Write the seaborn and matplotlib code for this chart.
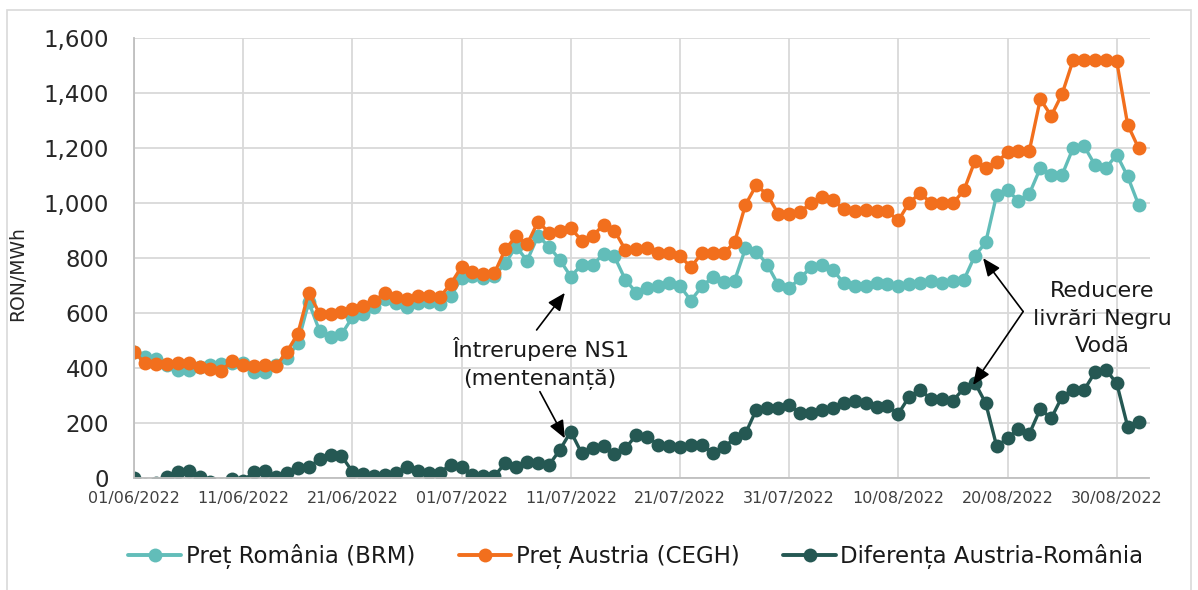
import numpy as np
import pandas as pd
import matplotlib
matplotlib.use("Agg")
import matplotlib.pyplot as plt
import matplotlib.dates as mdates
import matplotlib.ticker as mticker
from matplotlib.patches import Rectangle
from matplotlib.lines import Line2D
import seaborn as sns

# ---------------- data ----------------
dates = pd.date_range("2022-06-01", "2022-09-01", freq="D")

pret_romania = [
    460, 442, 432, 410, 395, 393, 405, 410, 415, 420,
    418, 385, 385, 410, 436, 491, 640, 535, 515, 523,
    585, 597, 621, 652, 636, 621, 636, 642, 634, 661,
    727, 735, 727, 735, 782, 842, 791, 881, 842, 794,
    733, 776, 776, 815, 806, 721, 675, 691, 699, 709,
    699, 646, 697, 731, 712, 718, 836, 824, 776, 703,
    691, 727, 767, 776, 758, 709, 697, 699, 711, 706,
    699, 706, 711, 716, 711, 718, 721, 808, 857, 1030,
    1046, 1009, 1034, 1127, 1103, 1103, 1200, 1208, 1139, 1127,
    1176, 1097, 994,
]

pret_austria = [
    460, 418, 415, 415, 418, 420, 403, 396, 390, 428,
    410, 408, 412, 408, 460, 525, 675, 598, 596, 606,
    614, 626, 646, 673, 658, 651, 661, 663, 658, 706,
    769, 748, 743, 745, 832, 880, 850, 933, 893, 899,
    909, 864, 881, 921, 900, 830, 833, 836, 818, 820,
    808, 767, 818, 818, 818, 857, 994, 1066, 1030, 961,
    961, 966, 1002, 1024, 1012, 978, 973, 976, 973, 970,
    937, 1002, 1036, 1000, 1000, 1000, 1046, 1152, 1128, 1149,
    1184, 1188, 1191, 1378, 1317, 1397, 1519, 1519, 1519, 1519,
    1515, 1285, 1200,
]

diferenta = [
    0, -24, -17, 5, 24, 27, 3, -14, -25, -3,
    -8, 22, 25, 3, 20, 36, 40, 69, 83, 82,
    24, 16, 8, 12, 18, 40, 28, 20, 20, 50,
    40, 12, 8, 8, 55, 40, 58, 55, 48, 103,
    170, 91, 109, 118, 88, 109, 157, 151, 122, 116,
    112, 122, 122, 92, 112, 145, 163, 250, 254, 254,
    266, 238, 236, 250, 257, 274, 280, 274, 260, 262,
    235, 297, 321, 288, 288, 282, 327, 348, 273, 117,
    145, 180, 162, 252, 218, 297, 322, 320, 385, 395,
    345, 188, 206,
]

series_names = ["Preț România (BRM)", "Preț Austria (CEGH)", "Diferența Austria-România"]
tick_dates = pd.date_range("2022-06-01", periods=10, freq="10D")
y_ticks = [0, 200, 400, 600, 800, 1000, 1200, 1400, 1600]

colors = {
    series_names[0]: "#62BDB9",
    series_names[1]: "#F26F1D",
    series_names[2]: "#255853",
}

df = pd.DataFrame({
    "Data": np.tile(dates.values, 3),
    "Valoare": pret_romania + pret_austria + diferenta,
    "Serie": np.repeat(series_names, len(dates)),
})

# ---------------- style ----------------
sns.set_theme(style="white")
plt.rcParams["font.family"] = ["DejaVu Sans"]

W, H = 1198, 590
fig = plt.figure(figsize=(W / 100, H / 100), dpi=100)
ax = fig.add_axes([134 / W, 1 - 478.3 / H, 1015.5 / W, 440.3 / H])

sns.lineplot(
    data=df, x="Data", y="Valoare", hue="Serie", hue_order=series_names,
    palette=colors, marker="o", markersize=10, markeredgewidth=0,
    linewidth=2.4, ax=ax, legend=False, sort=False, estimator=None,
)

ax.set_ylim(0, 1600)
ax.set_xlim(dates[0], dates[0] + pd.Timedelta(days=93))
ax.set_yticks(y_ticks)
ax.yaxis.set_major_formatter(mticker.StrMethodFormatter("{x:,.0f}"))
ax.set_xticks(tick_dates)
ax.xaxis.set_major_formatter(mdates.DateFormatter("%d/%m/%Y"))

ax.grid(True, color="#D9D9D9", linewidth=1.3)
ax.set_axisbelow(True)
for s in ["top", "right"]:
    ax.spines[s].set_visible(False)
for s in ["left", "bottom"]:
    ax.spines[s].set_color("#BFBFBF")
    ax.spines[s].set_linewidth(1.3)

ax.tick_params(axis="y", length=0, pad=18, labelsize=16.5, labelcolor="#262626")
ax.tick_params(axis="x", length=0, pad=9, labelsize=11.5, labelcolor="#404040")
ax.set_xlabel("")
ax.set_ylabel("RON/MWh", fontsize=13.5, color="#262626")
ax.yaxis.set_label_coords(-0.105, 0.464)


def dnum(day):
    return mdates.date2num(dates[0] + pd.Timedelta(days=day))


# annotations
ax.text(dnum(37.2), 416, "Întrerupere NS1\n(mentenanță)", ha="center", va="center",
        fontsize=16, color="#1a1a1a", linespacing=1.5)
ax.text(dnum(88.7), 580, "Reducere\nlivrări Negru\nVodă", ha="center", va="center",
        fontsize=16, color="#1a1a1a", linespacing=1.45)

arrow_kw = dict(arrowstyle="-|>,head_length=0.9,head_width=0.38", color="black",
                lw=1.2, shrinkA=0, shrinkB=0)
ax.annotate("", xy=(dnum(39.46), 674), xytext=(dnum(36.87), 539), arrowprops=arrow_kw)
ax.annotate("", xy=(dnum(39.46), 145), xytext=(dnum(37.17), 315), arrowprops=arrow_kw)
ax.annotate("", xy=(dnum(77.76), 800), xytext=(dnum(81.43), 606), arrowprops=arrow_kw)
ax.annotate("", xy=(dnum(76.84), 339), xytext=(dnum(81.43), 606), arrowprops=arrow_kw)

# legend
handles = [Line2D([0], [0], color=colors[n], lw=2.8, marker="o", markersize=10,
                  markeredgewidth=0) for n in series_names]
fig.legend(handles, series_names, loc="center", bbox_to_anchor=(636 / W, 1 - 556.5 / H),
           ncol=3, frameon=False, fontsize=16.5, handlelength=2.3, handletextpad=0.2,
           columnspacing=1.9, labelcolor="#1a1a1a")

# chart border
fig.patches.append(Rectangle((7 / W, -0.02), (1191 - 7) / W, 1.02 - 10 / H,
                             transform=fig.transFigure, fill=False,
                             edgecolor="#D9D9D9", linewidth=1.2))

fig.savefig("out.png", dpi=100)
